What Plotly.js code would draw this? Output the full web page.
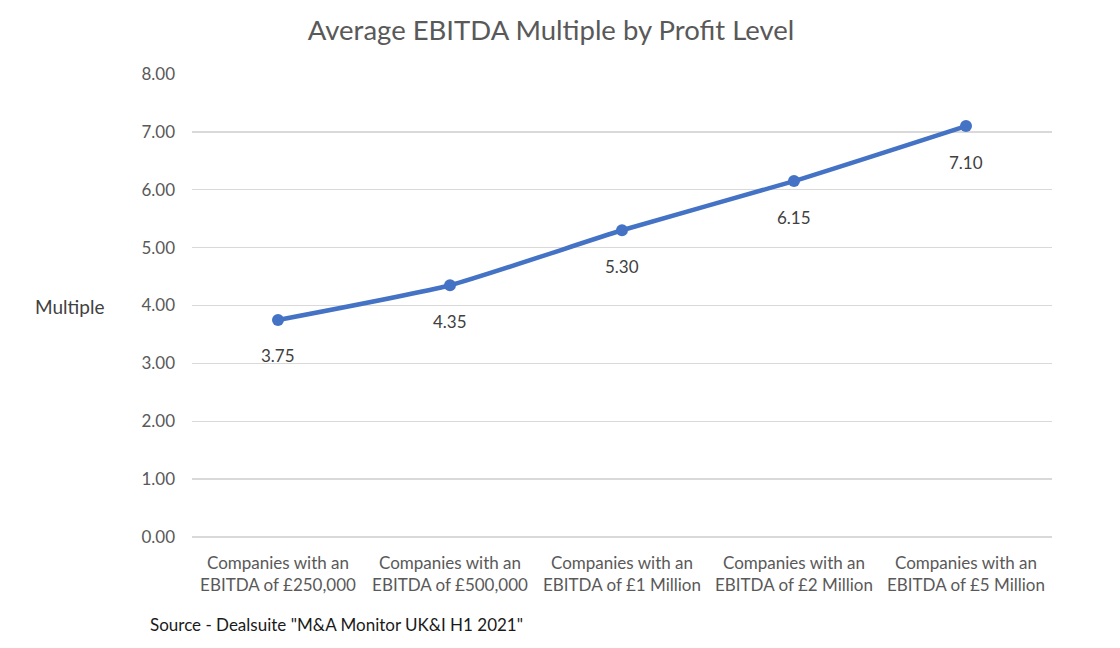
<!DOCTYPE html>
<html>
<head>
<meta charset="utf-8">
<script src="https://cdn.plot.ly/plotly-3.0.1.min.js"></script>
<style>
html,body{margin:0;padding:0;background:#fff;}
#chart{width:1120px;height:648px;}
</style>
</head>
<body>
<div id="chart"></div>
<script>
var categories = [
  "Companies with an<br>EBITDA of £250,000",
  "Companies with an<br>EBITDA of £500,000",
  "Companies with an<br>EBITDA of £1 Million",
  "Companies with an<br>EBITDA of £2 Million",
  "Companies with an<br>EBITDA of £5 Million"
];
var multiples = [3.75, 4.35, 5.30, 6.15, 7.10];
var yTicks = [0, 1, 2, 3, 4, 5, 6, 7, 8];

var FONT = "Lato, 'Open Sans', sans-serif";

var trace = {
  x: categories,
  y: multiples,
  type: "scatter",
  mode: "lines+markers",
  line: {color: "#4472C4", width: 4.5, shape: "spline", smoothing: 0.5},
  marker: {color: "#4472C4", size: 12},
  hoverinfo: "skip",
  showlegend: false,
  cliponaxis: false
};

var annotations = categories.map(function (c, i) {
  return {
    x: c, y: multiples[i], xref: "x", yref: "y",
    text: multiples[i].toFixed(2), showarrow: false,
    yshift: -36, font: {family: FONT, size: 17, color: "#404040"}
  };
});
annotations.push({
  xref: "paper", yref: "paper", x: -0.142, y: 0.497, xanchor: "center", yanchor: "middle",
  text: "Multiple", showarrow: false,
  font: {family: FONT, size: 19, color: "#404040"}
});
annotations.push({
  xref: "paper", yref: "paper", x: -0.0515, y: -0.189, xanchor: "left", yanchor: "middle",
  text: "Source - Dealsuite \"M&A Monitor UK&I H1 2021\"", showarrow: false,
  font: {family: FONT, size: 17, color: "#1a1a1a"}
});

var layout = {
  width: 1120, height: 648,
  margin: {l: 192, r: 68, t: 74, b: 111},
  paper_bgcolor: "#ffffff", plot_bgcolor: "#ffffff",
  title: {text: "Average EBITDA Multiple by Profit Level", x: 0.492, xanchor: "center", y: 0.953, yanchor: "middle",
          font: {family: FONT, size: 27.5, color: "#595959"}},
  xaxis: {
    type: "category", range: [-0.5, 4.5], showgrid: false, zeroline: false,
    showline: false, ticks: "", ticklabelstandoff: 14,
    tickfont: {family: FONT, size: 17, color: "#595959"},
    fixedrange: true
  },
  yaxis: {
    range: [0, 8], tickvals: yTicks, ticktext: yTicks.map(function (v) { return v.toFixed(2); }),
    showgrid: true, gridcolor: "#d9d9d9", gridwidth: 1.3,
    zeroline: true, zerolinecolor: "#d9d9d9", zerolinewidth: 1.3, showline: false,
    ticks: "", ticklabelstandoff: 16, tickfont: {family: FONT, size: 17, color: "#595959"},
    fixedrange: true
  },
  annotations: annotations
};

Plotly.newPlot("chart", [trace], layout, {displayModeBar: false, staticPlot: true});
</script>
</body>
</html>
